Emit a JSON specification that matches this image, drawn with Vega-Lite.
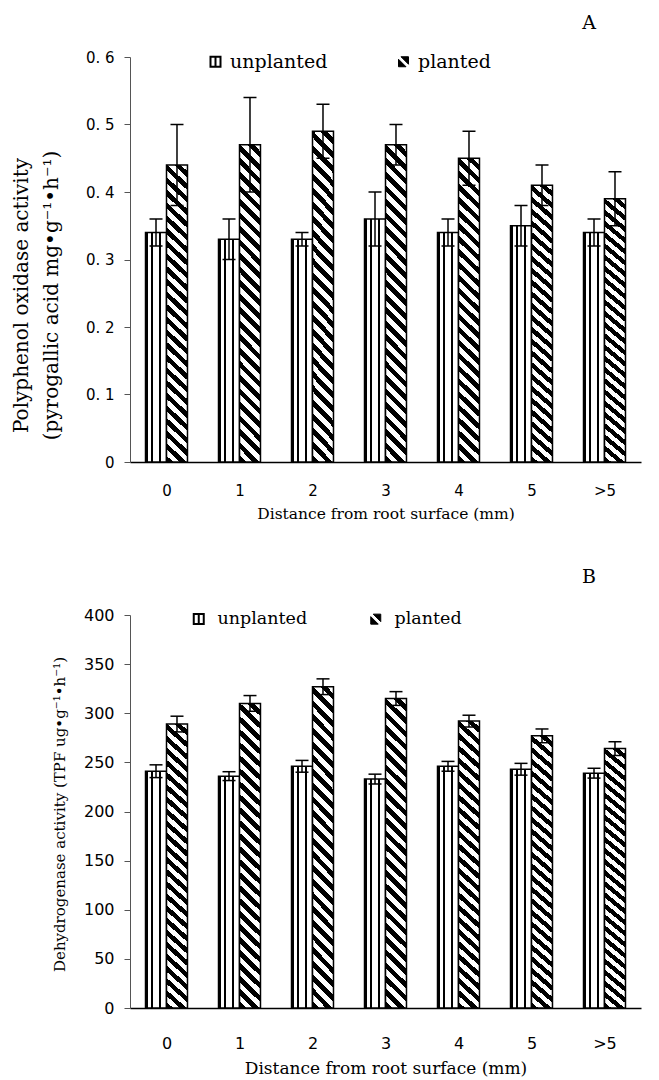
{
  "$schema": "https://vega.github.io/schema/vega-lite/v6.json",
  "background": "white",
  "padding": {"left": 10, "top": 14, "right": 10, "bottom": 10},
  "config": {"view": {"stroke": null}, "font": "DejaVu Sans", "axis": {"grid": false}},
  "spacing": 153,
  "bounds": "flush",
  "resolve": {"scale": {"color": "independent", "x": "independent", "y": "independent", "xOffset": "independent"}, "legend": {"color": "independent"}},
  "vconcat": [
    {
      "width": 511,
      "height": 405,
      "title": {"text": "A", "anchor": "end", "dx": -45, "offset": 2, "baseline": "alphabetic", "font": "DejaVu Serif", "fontSize": 19, "fontWeight": "normal", "color": "#000"},
      "data": {"values": [
        {"d": "0", "t": "unplanted", "v": 0.34, "lo": 0.32, "hi": 0.36},
        {"d": "0", "t": "planted", "v": 0.44, "lo": 0.38, "hi": 0.50},
        {"d": "1", "t": "unplanted", "v": 0.33, "lo": 0.30, "hi": 0.36},
        {"d": "1", "t": "planted", "v": 0.47, "lo": 0.40, "hi": 0.54},
        {"d": "2", "t": "unplanted", "v": 0.33, "lo": 0.32, "hi": 0.34},
        {"d": "2", "t": "planted", "v": 0.49, "lo": 0.45, "hi": 0.53},
        {"d": "3", "t": "unplanted", "v": 0.36, "lo": 0.32, "hi": 0.40},
        {"d": "3", "t": "planted", "v": 0.47, "lo": 0.44, "hi": 0.50},
        {"d": "4", "t": "unplanted", "v": 0.34, "lo": 0.32, "hi": 0.36},
        {"d": "4", "t": "planted", "v": 0.45, "lo": 0.41, "hi": 0.49},
        {"d": "5", "t": "unplanted", "v": 0.35, "lo": 0.32, "hi": 0.38},
        {"d": "5", "t": "planted", "v": 0.41, "lo": 0.38, "hi": 0.44},
        {"d": ">5", "t": "unplanted", "v": 0.34, "lo": 0.32, "hi": 0.36},
        {"d": ">5", "t": "planted", "v": 0.39, "lo": 0.35, "hi": 0.43}
      ]},
      "encoding": {
        "x": {"field": "d", "type": "nominal", "sort": ["0", "1", "2", "3", "4", "5", ">5"],
          "scale": {"paddingInner": 0.425, "paddingOuter": 0.2125},
          "axis": {"title": "Distance from root surface (mm)", "titleFont": "DejaVu Serif", "titleFontSize": 15.5, "titleFontWeight": "normal", "titleColor": "#000", "titleY": 51, "titleBaseline": "middle",
            "labelAngle": 0, "labelFont": "DejaVu Sans", "labelFontSize": 15, "labelColor": "#000", "labelPadding": 26, "tickSize": -5, "tickBand": "extent", "tickColor": "#000", "domainColor": "#000", "domainWidth": 1.5, "tickWidth": 1}},
        "xOffset": {"field": "t", "type": "nominal", "sort": ["unplanted", "planted"], "scale": {"paddingInner": 0, "paddingOuter": 0}},
        "y": {"field": "v", "type": "quantitative", "scale": {"domain": [0, 0.6], "nice": false},
          "axis": {"title": ["Polyphenol oxidase activity", "(pyrogallic acid mg•g⁻¹•h⁻¹)"], "titleFont": "DejaVu Serif", "titleFontSize": 20, "titleFontWeight": "normal", "titleColor": "#000", "titleX": -109, "titleY": 238, "titleBaseline": "middle", "titleAlign": "center", "titleAngle": -90, "titleLineHeight": 30,
            "values": [0, 0.1, 0.2, 0.3, 0.4, 0.5, 0.6], "labelExpr": "datum.value === 0 ? '0' : replace(format(datum.value, '.1f'), '.', '. ')",
            "labelFont": "DejaVu Sans", "labelFontSize": 15, "labelColor": "#000", "labelPadding": 10, "tickSize": 6, "tickColor": "#555", "domainColor": "#555"}}
      },
      "layer": [
        {
          "transform": [{"filter": "datum.t === 'unplanted'"}],
          "mark": {"type": "bar", "stroke": "#000", "strokeWidth": 1.5,
            "fill": {"gradient": "linear", "x1": 0, "y1": 0, "x2": 1, "y2": 0, "stops": [
              {"offset": 0, "color": "#000"}, {"offset": 0.1, "color": "#000"}, {"offset": 0.1, "color": "#fff"},
              {"offset": 0.28, "color": "#fff"}, {"offset": 0.28, "color": "#000"}, {"offset": 0.34, "color": "#000"}, {"offset": 0.34, "color": "#fff"},
              {"offset": 0.66, "color": "#fff"}, {"offset": 0.66, "color": "#000"}, {"offset": 0.72, "color": "#000"}, {"offset": 0.72, "color": "#fff"},
              {"offset": 1, "color": "#fff"}]}}
        },
        {
          "transform": [{"filter": "datum.t === 'planted'"}],
          "mark": {"type": "bar", "stroke": "#000", "strokeWidth": 1.5,
            "fill": {"gradient": "linear", "x1": 0, "y1": 1, "x2": 0.0708, "y2": -0.062, "stops": [
              {"offset": 0, "color": "#000"}, {"offset": 0.02, "color": "#000"}, {"offset": 0.02, "color": "#fff"}, {"offset": 0.04, "color": "#fff"},
              {"offset": 0.04, "color": "#000"}, {"offset": 0.06, "color": "#000"}, {"offset": 0.06, "color": "#fff"}, {"offset": 0.08, "color": "#fff"},
              {"offset": 0.08, "color": "#000"}, {"offset": 0.1, "color": "#000"}, {"offset": 0.1, "color": "#fff"}, {"offset": 0.12, "color": "#fff"},
              {"offset": 0.12, "color": "#000"}, {"offset": 0.14, "color": "#000"}, {"offset": 0.14, "color": "#fff"}, {"offset": 0.16, "color": "#fff"},
              {"offset": 0.16, "color": "#000"}, {"offset": 0.18, "color": "#000"}, {"offset": 0.18, "color": "#fff"}, {"offset": 0.2, "color": "#fff"},
              {"offset": 0.2, "color": "#000"}, {"offset": 0.22, "color": "#000"}, {"offset": 0.22, "color": "#fff"}, {"offset": 0.24, "color": "#fff"},
              {"offset": 0.24, "color": "#000"}, {"offset": 0.26, "color": "#000"}, {"offset": 0.26, "color": "#fff"}, {"offset": 0.28, "color": "#fff"},
              {"offset": 0.28, "color": "#000"}, {"offset": 0.3, "color": "#000"}, {"offset": 0.3, "color": "#fff"}, {"offset": 0.32, "color": "#fff"},
              {"offset": 0.32, "color": "#000"}, {"offset": 0.34, "color": "#000"}, {"offset": 0.34, "color": "#fff"}, {"offset": 0.36, "color": "#fff"},
              {"offset": 0.36, "color": "#000"}, {"offset": 0.38, "color": "#000"}, {"offset": 0.38, "color": "#fff"}, {"offset": 0.4, "color": "#fff"},
              {"offset": 0.4, "color": "#000"}, {"offset": 0.42, "color": "#000"}, {"offset": 0.42, "color": "#fff"}, {"offset": 0.44, "color": "#fff"},
              {"offset": 0.44, "color": "#000"}, {"offset": 0.46, "color": "#000"}, {"offset": 0.46, "color": "#fff"}, {"offset": 0.48, "color": "#fff"},
              {"offset": 0.48, "color": "#000"}, {"offset": 0.5, "color": "#000"}, {"offset": 0.5, "color": "#fff"}, {"offset": 0.52, "color": "#fff"},
              {"offset": 0.52, "color": "#000"}, {"offset": 0.54, "color": "#000"}, {"offset": 0.54, "color": "#fff"}, {"offset": 0.56, "color": "#fff"},
              {"offset": 0.56, "color": "#000"}, {"offset": 0.58, "color": "#000"}, {"offset": 0.58, "color": "#fff"}, {"offset": 0.6, "color": "#fff"},
              {"offset": 0.6, "color": "#000"}, {"offset": 0.62, "color": "#000"}, {"offset": 0.62, "color": "#fff"}, {"offset": 0.64, "color": "#fff"},
              {"offset": 0.64, "color": "#000"}, {"offset": 0.66, "color": "#000"}, {"offset": 0.66, "color": "#fff"}, {"offset": 0.68, "color": "#fff"},
              {"offset": 0.68, "color": "#000"}, {"offset": 0.7, "color": "#000"}, {"offset": 0.7, "color": "#fff"}, {"offset": 0.72, "color": "#fff"},
              {"offset": 0.72, "color": "#000"}, {"offset": 0.74, "color": "#000"}, {"offset": 0.74, "color": "#fff"}, {"offset": 0.76, "color": "#fff"},
              {"offset": 0.76, "color": "#000"}, {"offset": 0.78, "color": "#000"}, {"offset": 0.78, "color": "#fff"}, {"offset": 0.8, "color": "#fff"},
              {"offset": 0.8, "color": "#000"}, {"offset": 0.82, "color": "#000"}, {"offset": 0.82, "color": "#fff"}, {"offset": 0.84, "color": "#fff"},
              {"offset": 0.84, "color": "#000"}, {"offset": 0.86, "color": "#000"}, {"offset": 0.86, "color": "#fff"}, {"offset": 0.88, "color": "#fff"},
              {"offset": 0.88, "color": "#000"}, {"offset": 0.9, "color": "#000"}, {"offset": 0.9, "color": "#fff"}, {"offset": 0.92, "color": "#fff"},
              {"offset": 0.92, "color": "#000"}, {"offset": 0.94, "color": "#000"}, {"offset": 0.94, "color": "#fff"}, {"offset": 0.96, "color": "#fff"},
              {"offset": 0.96, "color": "#000"}, {"offset": 0.98, "color": "#000"}, {"offset": 0.98, "color": "#fff"}, {"offset": 1, "color": "#fff"}]}}
        },
        {
          "mark": {"type": "square", "opacity": 0},
          "encoding": {
            "color": {"field": "t", "type": "nominal", "scale": {"domain": ["unplanted", "planted"], "range": ["#fff", "#000"]},
              "legend": {"title": null, "orient": "none", "legendX": 76, "legendY": -5, "direction": "horizontal", "symbolType": "square", "symbolSize": 100, "symbolStrokeWidth": 2, "symbolStrokeColor": "#000", "symbolOpacity": 1,
                "labelFont": "DejaVu Serif", "labelFontSize": 19, "labelColor": "#000", "labelOffset": 5, "columnPadding": 66, "padding": 0,
                "encode": {"symbols": {"update": {
                  "shape": {"signal": "datum.value === 'planted' ? 'M-1,-0.5L0.5,1L-1,1Z M-0.5,-1L1,-1L1,0.5Z' : 'M-1,-1H1V1H-1Z M0,-1V1'"},
                  "stroke": {"value": "#000"}, "strokeWidth": {"signal": "datum.value === 'planted' ? 1 : 2"}, "opacity": {"value": 1}}}}}
            }
          }
        },
        {"mark": {"type": "rule", "color": "#000", "strokeWidth": 1.5}, "encoding": {"y": {"field": "lo", "type": "quantitative"}, "y2": {"field": "hi"}}},
        {"mark": {"type": "tick", "color": "#000", "thickness": 1.5, "size": 13, "opacity": 1}, "encoding": {"y": {"field": "lo", "type": "quantitative"}}},
        {"mark": {"type": "tick", "color": "#000", "thickness": 1.5, "size": 13, "opacity": 1}, "encoding": {"y": {"field": "hi", "type": "quantitative"}}}
      ]
    },
    {
      "width": 511,
      "height": 393,
      "title": {"text": "B", "anchor": "end", "dx": -45, "offset": 5, "baseline": "alphabetic", "font": "DejaVu Serif", "fontSize": 19, "fontWeight": "normal", "color": "#000"},
      "data": {"values": [
        {"d": "0", "t": "unplanted", "v": 241, "lo": 234.5, "hi": 247.5},
        {"d": "0", "t": "planted", "v": 289, "lo": 281, "hi": 297},
        {"d": "1", "t": "unplanted", "v": 236, "lo": 231.5, "hi": 240.5},
        {"d": "1", "t": "planted", "v": 310, "lo": 302, "hi": 318},
        {"d": "2", "t": "unplanted", "v": 246, "lo": 240, "hi": 252},
        {"d": "2", "t": "planted", "v": 327, "lo": 319, "hi": 335},
        {"d": "3", "t": "unplanted", "v": 233, "lo": 228, "hi": 238},
        {"d": "3", "t": "planted", "v": 315, "lo": 308, "hi": 322},
        {"d": "4", "t": "unplanted", "v": 246, "lo": 241, "hi": 251},
        {"d": "4", "t": "planted", "v": 292, "lo": 286, "hi": 298},
        {"d": "5", "t": "unplanted", "v": 243, "lo": 237, "hi": 249},
        {"d": "5", "t": "planted", "v": 277, "lo": 270, "hi": 284},
        {"d": ">5", "t": "unplanted", "v": 239, "lo": 234, "hi": 244},
        {"d": ">5", "t": "planted", "v": 264, "lo": 257, "hi": 271}
      ]},
      "encoding": {
        "x": {"field": "d", "type": "nominal", "sort": ["0", "1", "2", "3", "4", "5", ">5"],
          "scale": {"paddingInner": 0.425, "paddingOuter": 0.2125},
          "axis": {"title": "Distance from root surface (mm)", "titleFont": "DejaVu Serif", "titleFontSize": 17, "titleFontWeight": "normal", "titleColor": "#000", "titleY": 60, "titleBaseline": "middle",
            "labelAngle": 0, "labelFont": "DejaVu Sans", "labelFontSize": 16, "labelColor": "#000", "labelPadding": 32, "tickSize": -5, "tickBand": "extent", "tickColor": "#000", "domainColor": "#000", "domainWidth": 1.5, "tickWidth": 1}},
        "xOffset": {"field": "t", "type": "nominal", "sort": ["unplanted", "planted"], "scale": {"paddingInner": 0, "paddingOuter": 0}},
        "y": {"field": "v", "type": "quantitative", "scale": {"domain": [0, 400], "nice": false},
          "axis": {"title": "Dehydrogenase activity (TPF ug•g⁻¹•h⁻¹)", "titleFont": "DejaVu Serif", "titleFontSize": 15, "titleFontWeight": "normal", "titleColor": "#000", "titleX": -71, "titleY": 199, "titleBaseline": "middle", "titleAlign": "center", "titleAngle": -90,
            "values": [0, 50, 100, 150, 200, 250, 300, 350, 400],
            "labelFont": "DejaVu Sans", "labelFontSize": 16, "labelColor": "#000", "labelPadding": 10, "tickSize": 6, "tickColor": "#555", "domainColor": "#555"}}
      },
      "layer": [
        {
          "transform": [{"filter": "datum.t === 'unplanted'"}],
          "mark": {"type": "bar", "stroke": "#000", "strokeWidth": 1.5,
            "fill": {"gradient": "linear", "x1": 0, "y1": 0, "x2": 1, "y2": 0, "stops": [
              {"offset": 0, "color": "#000"}, {"offset": 0.1, "color": "#000"}, {"offset": 0.1, "color": "#fff"},
              {"offset": 0.28, "color": "#fff"}, {"offset": 0.28, "color": "#000"}, {"offset": 0.34, "color": "#000"}, {"offset": 0.34, "color": "#fff"},
              {"offset": 0.66, "color": "#fff"}, {"offset": 0.66, "color": "#000"}, {"offset": 0.72, "color": "#000"}, {"offset": 0.72, "color": "#fff"},
              {"offset": 1, "color": "#fff"}]}}
        },
        {
          "transform": [{"filter": "datum.t === 'planted'"}],
          "mark": {"type": "bar", "stroke": "#000", "strokeWidth": 1.5,
            "fill": {"gradient": "linear", "x1": 0, "y1": 1, "x2": 0.0708, "y2": -0.062, "stops": [
              {"offset": 0, "color": "#000"}, {"offset": 0.02, "color": "#000"}, {"offset": 0.02, "color": "#fff"}, {"offset": 0.04, "color": "#fff"},
              {"offset": 0.04, "color": "#000"}, {"offset": 0.06, "color": "#000"}, {"offset": 0.06, "color": "#fff"}, {"offset": 0.08, "color": "#fff"},
              {"offset": 0.08, "color": "#000"}, {"offset": 0.1, "color": "#000"}, {"offset": 0.1, "color": "#fff"}, {"offset": 0.12, "color": "#fff"},
              {"offset": 0.12, "color": "#000"}, {"offset": 0.14, "color": "#000"}, {"offset": 0.14, "color": "#fff"}, {"offset": 0.16, "color": "#fff"},
              {"offset": 0.16, "color": "#000"}, {"offset": 0.18, "color": "#000"}, {"offset": 0.18, "color": "#fff"}, {"offset": 0.2, "color": "#fff"},
              {"offset": 0.2, "color": "#000"}, {"offset": 0.22, "color": "#000"}, {"offset": 0.22, "color": "#fff"}, {"offset": 0.24, "color": "#fff"},
              {"offset": 0.24, "color": "#000"}, {"offset": 0.26, "color": "#000"}, {"offset": 0.26, "color": "#fff"}, {"offset": 0.28, "color": "#fff"},
              {"offset": 0.28, "color": "#000"}, {"offset": 0.3, "color": "#000"}, {"offset": 0.3, "color": "#fff"}, {"offset": 0.32, "color": "#fff"},
              {"offset": 0.32, "color": "#000"}, {"offset": 0.34, "color": "#000"}, {"offset": 0.34, "color": "#fff"}, {"offset": 0.36, "color": "#fff"},
              {"offset": 0.36, "color": "#000"}, {"offset": 0.38, "color": "#000"}, {"offset": 0.38, "color": "#fff"}, {"offset": 0.4, "color": "#fff"},
              {"offset": 0.4, "color": "#000"}, {"offset": 0.42, "color": "#000"}, {"offset": 0.42, "color": "#fff"}, {"offset": 0.44, "color": "#fff"},
              {"offset": 0.44, "color": "#000"}, {"offset": 0.46, "color": "#000"}, {"offset": 0.46, "color": "#fff"}, {"offset": 0.48, "color": "#fff"},
              {"offset": 0.48, "color": "#000"}, {"offset": 0.5, "color": "#000"}, {"offset": 0.5, "color": "#fff"}, {"offset": 0.52, "color": "#fff"},
              {"offset": 0.52, "color": "#000"}, {"offset": 0.54, "color": "#000"}, {"offset": 0.54, "color": "#fff"}, {"offset": 0.56, "color": "#fff"},
              {"offset": 0.56, "color": "#000"}, {"offset": 0.58, "color": "#000"}, {"offset": 0.58, "color": "#fff"}, {"offset": 0.6, "color": "#fff"},
              {"offset": 0.6, "color": "#000"}, {"offset": 0.62, "color": "#000"}, {"offset": 0.62, "color": "#fff"}, {"offset": 0.64, "color": "#fff"},
              {"offset": 0.64, "color": "#000"}, {"offset": 0.66, "color": "#000"}, {"offset": 0.66, "color": "#fff"}, {"offset": 0.68, "color": "#fff"},
              {"offset": 0.68, "color": "#000"}, {"offset": 0.7, "color": "#000"}, {"offset": 0.7, "color": "#fff"}, {"offset": 0.72, "color": "#fff"},
              {"offset": 0.72, "color": "#000"}, {"offset": 0.74, "color": "#000"}, {"offset": 0.74, "color": "#fff"}, {"offset": 0.76, "color": "#fff"},
              {"offset": 0.76, "color": "#000"}, {"offset": 0.78, "color": "#000"}, {"offset": 0.78, "color": "#fff"}, {"offset": 0.8, "color": "#fff"},
              {"offset": 0.8, "color": "#000"}, {"offset": 0.82, "color": "#000"}, {"offset": 0.82, "color": "#fff"}, {"offset": 0.84, "color": "#fff"},
              {"offset": 0.84, "color": "#000"}, {"offset": 0.86, "color": "#000"}, {"offset": 0.86, "color": "#fff"}, {"offset": 0.88, "color": "#fff"},
              {"offset": 0.88, "color": "#000"}, {"offset": 0.9, "color": "#000"}, {"offset": 0.9, "color": "#fff"}, {"offset": 0.92, "color": "#fff"},
              {"offset": 0.92, "color": "#000"}, {"offset": 0.94, "color": "#000"}, {"offset": 0.94, "color": "#fff"}, {"offset": 0.96, "color": "#fff"},
              {"offset": 0.96, "color": "#000"}, {"offset": 0.98, "color": "#000"}, {"offset": 0.98, "color": "#fff"}, {"offset": 1, "color": "#fff"}]}}
        },
        {
          "mark": {"type": "square", "opacity": 0},
          "encoding": {
            "color": {"field": "t", "type": "nominal", "scale": {"domain": ["unplanted", "planted"], "range": ["#fff", "#000"]},
              "legend": {"title": null, "orient": "none", "legendX": 60, "legendY": -5, "direction": "horizontal", "symbolType": "square", "symbolSize": 100, "symbolStrokeWidth": 2, "symbolStrokeColor": "#000", "symbolOpacity": 1,
                "labelFont": "DejaVu Serif", "labelFontSize": 17.5, "labelColor": "#000", "labelOffset": 10, "columnPadding": 59, "padding": 0,
                "encode": {"symbols": {"update": {
                  "shape": {"signal": "datum.value === 'planted' ? 'M-1,-0.5L0.5,1L-1,1Z M-0.5,-1L1,-1L1,0.5Z' : 'M-1,-1H1V1H-1Z M0,-1V1'"},
                  "stroke": {"value": "#000"}, "strokeWidth": {"signal": "datum.value === 'planted' ? 1 : 2"}, "opacity": {"value": 1}}}}}
            }
          }
        },
        {"mark": {"type": "rule", "color": "#000", "strokeWidth": 1.5}, "encoding": {"y": {"field": "lo", "type": "quantitative"}, "y2": {"field": "hi"}}},
        {"mark": {"type": "tick", "color": "#000", "thickness": 1.5, "size": 13, "opacity": 1}, "encoding": {"y": {"field": "lo", "type": "quantitative"}}},
        {"mark": {"type": "tick", "color": "#000", "thickness": 1.5, "size": 13, "opacity": 1}, "encoding": {"y": {"field": "hi", "type": "quantitative"}}}
      ]
    }
  ]
}
